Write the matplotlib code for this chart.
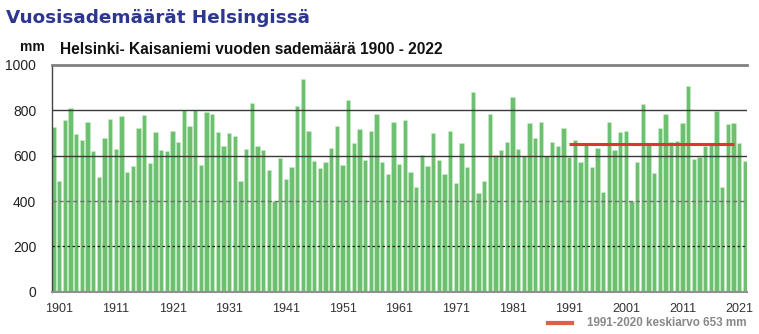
import matplotlib
matplotlib.use("Agg")
import matplotlib.pyplot as plt
import numpy as np

# Annual precipitation at Helsinki Kaisaniemi, 1900-2022 (mm)
years = list(range(1900, 2023))
precip = [
    728, 487, 759, 812, 697, 668, 747, 621, 506, 680,
    763, 631, 777, 526, 556, 724, 778, 568, 703, 627,
    621, 708, 659, 800, 731, 803, 561, 791, 785, 703,
    644, 702, 686, 490, 630, 834, 642, 624, 539, 401,
    590, 496, 551, 819, 940, 708, 575, 545, 570, 636,
    733, 558, 847, 656, 719, 583, 711, 785, 570, 521,
    747, 565, 757, 528, 462, 605, 555, 699, 583, 518,
    711, 481, 655, 549, 879, 435, 490, 785, 603, 624,
    659, 859, 628, 600, 744, 678, 750, 600, 662, 644,
    722, 592, 669, 573, 658, 548, 633, 440, 747, 624,
    706, 708, 401, 574, 828, 649, 523, 722, 785, 659,
    664, 746, 906, 586, 595, 643, 646, 799, 462, 740,
    744, 655, 577,
]
normal_start, normal_end = 1991, 2020
normal_mean = 653
tick_years = [1901, 1911, 1921, 1931, 1941, 1951, 1961, 1971, 1981, 1991, 2001, 2011, 2021]
y_ticks = [0, 200, 400, 600, 800, 1000]

plt.rcParams["font.family"] = ["Liberation Sans", "DejaVu Sans"]

fig = plt.figure(figsize=(7.59, 3.34), dpi=100)
ax = fig.add_axes([51.5 / 759, 1 - 291.7 / 334, (747 - 51.5) / 759, (291.7 - 65) / 334])

x = np.arange(len(years))
ax.bar(x, precip, width=0.76, color="#6cc070", edgecolor="#c9efc6", linewidth=0.4, zorder=2)

# horizontal reference lines
ax.axhline(800, color="#3a3a3a", lw=1.0, zorder=3)
ax.axhline(600, color="#3a3a3a", lw=1.0, zorder=3)
ax.axhline(400, color="#707070", lw=1.0, ls=(0, (3, 2)), zorder=3)
ax.axhline(200, color="#202020", lw=0.9, ls=(0, (2, 2)), zorder=3)

# 1991-2020 mean line
i0 = years.index(normal_start)
i1 = years.index(normal_end)
ax.plot([i0, i1], [normal_mean, normal_mean], color="#e03434", lw=2.2, zorder=4,
        solid_capstyle="butt")

ax.set_xlim(-0.38, len(years) - 0.62)
ax.set_ylim(0, 1000)
ax.set_yticks(y_ticks)
ax.set_yticklabels([str(v) for v in y_ticks], fontsize=10, color="#222222")
ax.set_xticks([years.index(y) for y in tick_years])
ax.set_xticklabels([str(y) for y in tick_years], fontsize=9, color="#333333")
ax.tick_params(axis="both", length=0)
ax.tick_params(axis="y", pad=11)
ax.tick_params(axis="x", pad=8)

ax.spines["right"].set_visible(False)
ax.spines["top"].set_color("#808080")
ax.spines["top"].set_linewidth(2.0)
ax.spines["left"].set_color("#444444")
ax.spines["left"].set_linewidth(1.0)
ax.spines["bottom"].set_color("#909090")
ax.spines["bottom"].set_linewidth(1.5)

fig.text(6 / 759, 1 - 18 / 334, "Vuosisademäärät Helsingissä", fontsize=13.2,
         fontweight="bold", color="#2e3790", family="DejaVu Sans", va="center", ha="left")
fig.text(60 / 759, 1 - 50 / 334, "Helsinki- Kaisaniemi vuoden sademäärä 1900 - 2022",
         fontsize=11.2, fontweight="bold", color="#111111", va="center", ha="left")
fig.text(32 / 759, 1 - 47 / 334, "mm", fontsize=10, fontweight="bold", color="#111111",
         va="center", ha="center")

# legend for the mean line
fig.add_artist(plt.Line2D([548 / 759, 572 / 759], [1 - 323 / 334, 1 - 323 / 334],
                          color="#e0603f", lw=3, transform=fig.transFigure))
fig.text(747 / 759, 1 - 323 / 334, "1991-2020 keskiarvo 653 mm", fontsize=8.4,
         fontweight="bold", color="#888888", va="center", ha="right")

fig.savefig("out.png", dpi=100)
